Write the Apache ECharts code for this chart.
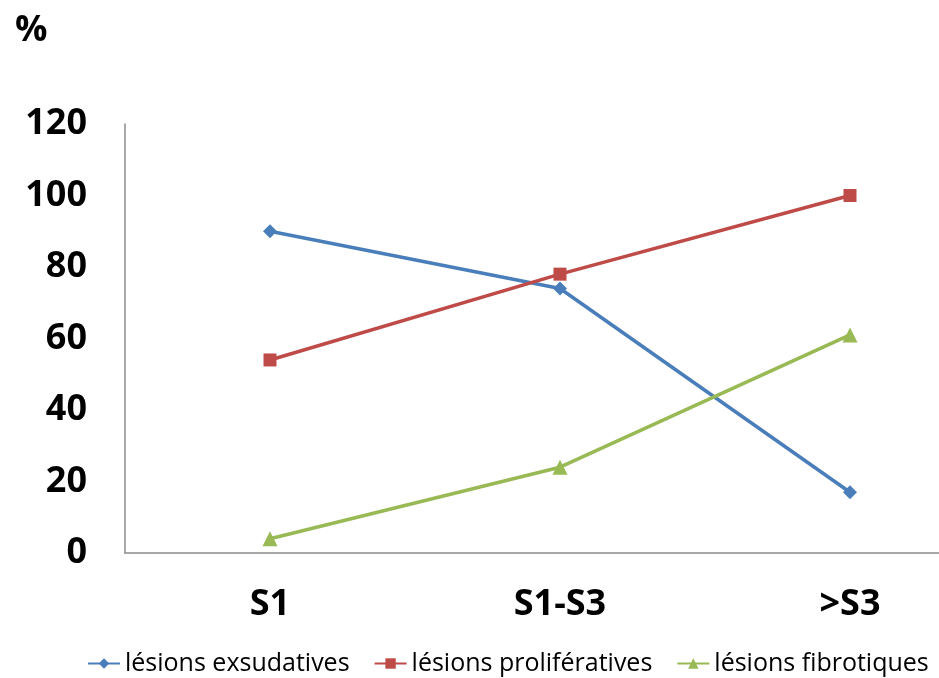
<!DOCTYPE html>
<html><head><meta charset="utf-8">
<script src="https://cdn.jsdelivr.net/npm/echarts@6/dist/echarts.min.js"></script>
<style>html,body{margin:0;padding:0;background:#fff}#c{width:939px;height:678px}</style>
</head><body><div id="c"></div>
<script>
const categories = ['S1', 'S1-S3', '>S3'];
const exsudatives = [90, 74, 17];
const proliferatives = [54, 78, 100];
const fibrotiques = [4, 24, 61];
const seriesNames = ['lésions exsudatives', 'lésions prolifératives', 'lésions fibrotiques'];

const FONT = '"Open Sans", "Liberation Sans", Arial, sans-serif';
const chart = echarts.init(document.getElementById('c'), null, {renderer: 'canvas'});
const mk = (name, data, color, symbol, size) => ({
  name, type: 'line', data, symbol, symbolSize: size,
  lineStyle: {color, width: 3.5}, itemStyle: {color},
  animation: false
});
chart.setOption({
  backgroundColor: '#fff',
  title: {text: '%', left: 10, top: 8,
    textStyle: {fontFamily: FONT, fontWeight: 'bold', fontSize: 36, color: '#000'}},
  grid: {left: 125, top: 124, height: 429, width: 870, containLabel: false, outerBoundsMode: 'none'},
  legend: {
    data: seriesNames, bottom: 2, left: 87, width: 880, padding: 0, itemGap: 24, itemWidth: 32, itemHeight: 13,
    textStyle: {fontFamily: FONT, fontSize: 25, color: '#000'}
  },
  xAxis: {
    type: 'category', data: categories, boundaryGap: true,
    axisLine: {lineStyle: {color: '#8c8c8c', width: 1.5}},
    axisTick: {show: false},
    axisLabel: {fontFamily: FONT, fontWeight: 'bold', fontSize: 36, color: '#000', margin: 34},
    splitLine: {show: false}
  },
  yAxis: {
    type: 'value', min: 0, max: 120, interval: 20,
    axisLine: {show: true, lineStyle: {color: '#8c8c8c', width: 1.5}},
    axisTick: {show: false},
    axisLabel: {fontFamily: FONT, fontWeight: 'bold', fontSize: 36, color: '#000', margin: 38},
    splitLine: {show: false}
  },
  series: [
    mk(seriesNames[0], exsudatives, '#4a7ebb', 'diamond', 14),
    mk(seriesNames[1], proliferatives, '#be4b48', 'rect', 13),
    mk(seriesNames[2], fibrotiques, '#98b954', 'triangle', 15)
  ]
});
</script></body></html>
